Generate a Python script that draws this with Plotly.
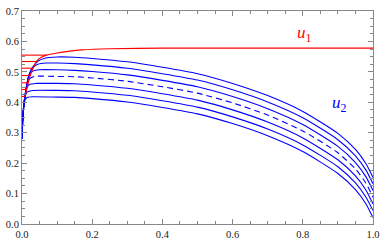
import numpy as np
import plotly.graph_objects as go

# ---- data ----
# blue u2 curves (top to bottom); the 4th one is dashed
u2_1_x = [0, 0.002, 0.005, 0.009, 0.014, 0.02, 0.03, 0.045, 0.065, 0.1, 0.15, 0.2, 0.3, 0.4, 0.5, 0.6, 0.7, 0.8, 0.9, 0.95, 0.98, 1.0]
u2_1_y = [0.28, 0.34, 0.39, 0.425, 0.46, 0.49, 0.515, 0.535, 0.545, 0.549, 0.548, 0.544, 0.533, 0.515, 0.494, 0.462, 0.422, 0.37, 0.298, 0.245, 0.198, 0.153]

u2_2_x = [0, 0.002, 0.005, 0.009, 0.014, 0.02, 0.03, 0.045, 0.07, 0.1, 0.15, 0.2, 0.3, 0.4, 0.5, 0.6, 0.7, 0.8, 0.9, 0.95, 0.98, 1.0]
u2_2_y = [0.28, 0.34, 0.39, 0.425, 0.46, 0.49, 0.513, 0.525, 0.529, 0.529, 0.527, 0.523, 0.512, 0.494, 0.473, 0.441, 0.401, 0.349, 0.277, 0.224, 0.177, 0.132]

u2_3_x = [0, 0.002, 0.005, 0.009, 0.014, 0.02, 0.03, 0.05, 0.1, 0.15, 0.2, 0.3, 0.4, 0.5, 0.6, 0.7, 0.8, 0.9, 0.95, 0.98, 1.0]
u2_3_y = [0.28, 0.34, 0.39, 0.425, 0.46, 0.488, 0.502, 0.507, 0.507, 0.505, 0.501, 0.49, 0.472, 0.451, 0.419, 0.379, 0.327, 0.255, 0.202, 0.155, 0.110]

u2_4_x = [0, 0.002, 0.005, 0.009, 0.014, 0.02, 0.035, 0.1, 0.15, 0.2, 0.3, 0.4, 0.5, 0.6, 0.7, 0.8, 0.9, 0.95, 0.98, 1.0]
u2_4_y = [0.28, 0.34, 0.39, 0.425, 0.458, 0.476, 0.485, 0.485, 0.484, 0.48, 0.469, 0.451, 0.43, 0.398, 0.358, 0.306, 0.234, 0.181, 0.134, 0.088]

u2_5_x = [0, 0.002, 0.005, 0.009, 0.014, 0.022, 0.04, 0.1, 0.15, 0.2, 0.3, 0.4, 0.5, 0.6, 0.7, 0.8, 0.9, 0.95, 0.98, 1.0]
u2_5_y = [0.28, 0.34, 0.39, 0.423, 0.448, 0.459, 0.462, 0.462, 0.461, 0.457, 0.446, 0.428, 0.407, 0.375, 0.335, 0.283, 0.211, 0.158, 0.111, 0.066]

u2_6_x = [0, 0.002, 0.005, 0.009, 0.015, 0.03, 0.1, 0.15, 0.2, 0.3, 0.4, 0.5, 0.6, 0.7, 0.8, 0.9, 0.95, 0.98, 1.0]
u2_6_y = [0.28, 0.34, 0.388, 0.42, 0.434, 0.439, 0.439, 0.438, 0.434, 0.423, 0.405, 0.384, 0.352, 0.312, 0.26, 0.188, 0.135, 0.088, 0.044]

u2_7_x = [0, 0.002, 0.005, 0.009, 0.015, 0.03, 0.1, 0.15, 0.2, 0.3, 0.4, 0.5, 0.6, 0.7, 0.8, 0.9, 0.95, 0.98, 1.0]
u2_7_y = [0.28, 0.34, 0.385, 0.408, 0.416, 0.418, 0.417, 0.416, 0.412, 0.401, 0.383, 0.362, 0.33, 0.29, 0.238, 0.166, 0.113, 0.066, 0.021]

# red u1: common rising envelope and the constant starting levels
u1_env_x = [0.008, 0.013, 0.018, 0.024, 0.033, 0.043, 0.055, 0.07, 0.1, 0.136, 0.17, 0.25, 0.4, 0.6, 1.0]
u1_env_y = [0.419, 0.442, 0.465, 0.49, 0.515, 0.537, 0.548, 0.555, 0.562, 0.568, 0.572, 0.576, 0.578, 0.578, 0.578]
u1_levels = [0.555, 0.534, 0.512, 0.488, 0.464, 0.442, 0.419]

x_ticks = [0.0, 0.2, 0.4, 0.6, 0.8, 1.0]
y_ticks = [0.0, 0.1, 0.2, 0.3, 0.4, 0.5, 0.6, 0.7]

BLUE = "#0000ff"
RED = "#ff0000"
SERIF = "Liberation Serif"

fig = go.Figure()

blue = [(u2_1_x, u2_1_y, "solid"), (u2_2_x, u2_2_y, "solid"), (u2_3_x, u2_3_y, "solid"),
        (u2_4_x, u2_4_y, "6px,4px"), (u2_5_x, u2_5_y, "solid"), (u2_6_x, u2_6_y, "solid"),
        (u2_7_x, u2_7_y, "solid")]
for bx, by, d in blue:
    fig.add_trace(go.Scatter(x=bx, y=by, mode="lines",
                             line=dict(color=BLUE, width=1.1, dash=d, shape="spline", smoothing=0.6)))

for lv in u1_levels:
    xe = float(np.interp(lv, u1_env_y, u1_env_x))
    fig.add_trace(go.Scatter(x=[0, xe], y=[lv, lv], mode="lines",
                             line=dict(color=RED, width=1.1)))
fig.add_trace(go.Scatter(x=u1_env_x, y=u1_env_y, mode="lines",
                         line=dict(color=RED, width=1.2, shape="spline", smoothing=0.6)))

fig.add_annotation(x=0.806, y=0.626, xref="x", yref="y", text="<i>u</i><sub>1</sub>",
                   showarrow=False, font=dict(family=SERIF, size=17, color=RED))
fig.add_annotation(x=0.905, y=0.395, xref="x", yref="y", text="<i>u</i><sub>2</sub>",
                   showarrow=False, font=dict(family=SERIF, size=17, color=BLUE))

axis_common = dict(showgrid=False, zeroline=False, showline=True, linecolor="#888888",
                   linewidth=1, mirror="allticks", ticks="inside", ticklen=5,
                   tickcolor="#888888", tickwidth=1,
                   tickfont=dict(family=SERIF, size=10.5, color="#222222"))

fig.update_xaxes(range=[0, 1], tickvals=x_ticks, ticktext=[f"{v:.1f}" for v in x_ticks],
                 minor=dict(dtick=0.05, ticklen=3, ticks="inside", tickcolor="#888888"),
                 **axis_common)
fig.update_yaxes(range=[0, 0.7], tickvals=y_ticks, ticktext=[f"{v:.1f}" for v in y_ticks],
                 minor=dict(dtick=0.025, ticklen=3, ticks="inside", tickcolor="#888888"),
                 **axis_common)

fig.update_layout(width=386, height=246, margin=dict(l=18, r=9, t=6, b=17),
                  paper_bgcolor="white", plot_bgcolor="white", showlegend=False,
                  hovermode=False)

fig.write_html("out.html", config={"displayModeBar": False},
               post_script="document.body.style.margin='0';")
